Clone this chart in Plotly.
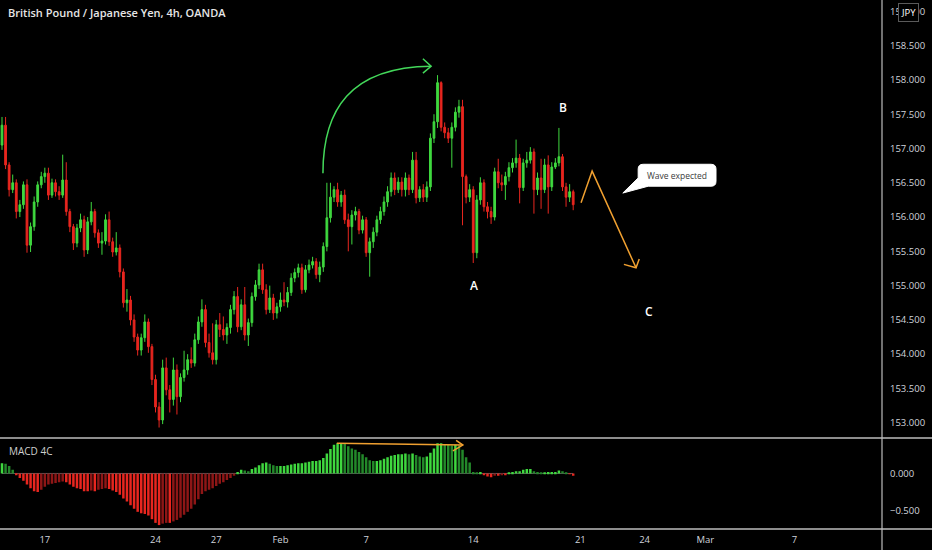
import plotly.graph_objects as go

# GBP/JPY 4h bars, 13 Jan - 18 Feb 2022, x is the bar number (6 bars a day)
first_open = 157.05
closes = [
    157.34, 156.76, 156.40, 156.50, 156.08, 156.18, 156.47, 155.59, 155.86, 156.22,
    156.47, 156.59, 156.64, 156.32, 156.50, 156.37, 156.32, 156.54, 156.08, 155.86,
    155.62, 155.84, 155.96, 155.52, 155.93, 156.08, 155.77, 155.62, 155.65, 155.96,
    155.64, 155.49, 155.55, 155.20, 154.75, 154.79, 154.50, 154.25, 154.06, 154.24,
    154.47, 154.11, 153.63, 153.23, 153.04, 153.80, 153.48, 153.34, 153.77, 153.38,
    153.66, 153.77, 153.92, 153.87, 154.21, 154.47, 154.65, 154.17, 154.02, 153.92,
    154.43, 154.36, 154.28, 154.39, 154.65, 154.84, 154.40, 154.72, 154.28, 154.46,
    154.84, 155.01, 155.23, 154.94, 154.65, 154.82, 154.60, 154.69, 154.79, 154.76,
    154.90, 155.11, 155.19, 155.26, 154.94, 155.23, 155.30, 155.35, 155.16, 155.27,
    155.57, 155.99, 156.29, 156.40, 156.22, 156.32, 155.96, 155.86, 156.03, 156.08,
    155.81, 155.96, 155.48, 155.64, 155.78, 155.96, 156.08, 156.22, 156.37, 156.57,
    156.40, 156.51, 156.40, 156.57, 156.40, 156.83, 156.28, 156.40, 156.29, 156.44,
    157.15, 157.39, 157.96, 157.31, 157.23, 157.15, 157.31, 157.53, 157.61, 156.59,
    156.29, 156.40, 155.48, 156.25, 156.50, 156.15, 156.08, 156.00, 156.66, 156.50,
    156.47, 156.59, 156.72, 156.79, 156.86, 156.43, 156.79, 156.83, 156.95, 156.40,
    156.57, 156.40, 156.76, 156.44, 156.73, 156.79, 156.88, 156.44, 156.29, 156.37,
    156.18,
]
highs = [
    157.46, 157.46, 156.80, 156.62, 156.55, 156.25, 156.52, 156.55, 155.92, 156.30,
    156.52, 156.66, 156.72, 156.72, 156.56, 156.55, 156.45, 156.91, 156.80, 156.12,
    155.90, 155.90, 156.05, 156.02, 156.00, 156.22, 156.12, 155.82, 155.78, 156.04,
    156.08, 155.70, 155.78, 155.60, 155.25, 154.95, 154.85, 154.58, 154.30, 154.30,
    154.58, 154.52, 154.15, 153.70, 153.30, 153.92, 153.95, 153.55, 153.95, 153.85,
    153.72, 154.05, 154.00, 154.10, 154.30, 154.55, 154.80, 154.72, 154.30, 154.45,
    154.50, 154.60, 154.55, 154.45, 154.72, 154.92, 154.98, 154.80, 154.98, 154.52,
    154.90, 155.08, 155.32, 155.32, 155.02, 155.00, 154.88, 154.75, 154.90, 155.05,
    154.98, 155.18, 155.25, 155.32, 155.32, 155.30, 155.38, 155.42, 155.40, 155.35,
    155.63, 156.50, 156.50, 156.45, 156.50, 156.38, 156.40, 156.05, 156.10, 156.15,
    156.12, 156.02, 156.00, 155.70, 155.85, 156.02, 156.15, 156.30, 156.45, 156.65,
    156.65, 156.58, 156.58, 156.65, 156.62, 156.95, 156.95, 156.45, 156.48, 156.52,
    157.22, 157.50, 158.07, 157.98, 157.38, 157.30, 157.38, 157.60, 157.71, 157.71,
    156.62, 156.48, 156.45, 156.32, 156.58, 156.55, 156.22, 156.15, 156.72, 156.85,
    156.62, 156.66, 156.80, 156.86, 157.13, 156.92, 156.85, 156.95, 157.02, 157.00,
    156.65, 156.85, 156.85, 156.90, 156.80, 156.86, 157.30, 156.92, 156.50, 156.48,
    156.40,
]
lows = [
    156.98, 156.70, 156.30, 156.35, 155.98, 156.00, 156.12, 155.48, 155.49, 155.80,
    156.15, 156.42, 156.50, 156.25, 156.28, 156.30, 156.25, 156.28, 156.02, 155.78,
    155.52, 155.56, 155.78, 155.42, 155.46, 155.88, 155.70, 155.55, 155.45, 155.60,
    155.58, 155.42, 155.44, 155.12, 154.68, 154.62, 154.42, 154.18, 153.98, 153.98,
    154.18, 154.02, 153.55, 153.15, 152.93, 152.98, 153.40, 153.15, 153.25, 153.12,
    153.30, 153.60, 153.70, 153.80, 153.82, 154.15, 154.40, 154.10, 153.95, 153.85,
    153.85, 154.25, 154.20, 154.15, 154.30, 154.58, 154.32, 154.35, 154.20, 154.12,
    154.40, 154.78, 154.95, 154.88, 154.58, 154.60, 154.50, 154.52, 154.62, 154.70,
    154.68, 154.85, 155.05, 155.12, 154.88, 154.90, 155.18, 155.25, 155.10, 155.05,
    155.20, 155.50, 155.92, 156.22, 156.15, 156.15, 155.90, 155.50, 155.60, 155.95,
    155.75, 155.76, 155.42, 155.13, 155.55, 155.72, 155.90, 156.02, 156.15, 156.30,
    156.32, 156.35, 156.30, 156.30, 156.32, 156.35, 156.20, 156.22, 156.22, 156.22,
    156.38, 157.08, 157.30, 157.25, 157.15, 157.08, 156.72, 157.25, 157.45, 155.88,
    156.20, 156.22, 155.33, 155.40, 156.18, 156.08, 155.98, 155.90, 155.95, 156.42,
    156.38, 156.25, 156.52, 156.65, 156.72, 156.20, 156.38, 156.72, 156.78, 156.05,
    156.32, 156.12, 156.35, 156.05, 156.38, 156.70, 156.74, 156.38, 156.15, 156.22,
    156.10,
]
macd_hist = [
    0.14, 0.13, 0.10, 0.05, -0.02, -0.06, -0.10, -0.15, -0.20, -0.24,
    -0.25, -0.22, -0.18, -0.15, -0.14, -0.13, -0.12, -0.11, -0.12, -0.15,
    -0.18, -0.20, -0.21, -0.24, -0.24, -0.23, -0.24, -0.22, -0.21, -0.20,
    -0.21, -0.23, -0.25, -0.29, -0.34, -0.38, -0.43, -0.48, -0.52, -0.54,
    -0.55, -0.57, -0.62, -0.67, -0.70, -0.68, -0.67, -0.67, -0.65, -0.63,
    -0.60, -0.56, -0.52, -0.48, -0.42, -0.35, -0.28, -0.24, -0.22, -0.20,
    -0.17, -0.14, -0.12, -0.09, -0.06, -0.03, 0.02, 0.05, 0.04, 0.03,
    0.06, 0.08, 0.11, 0.14, 0.15, 0.13, 0.11, 0.10, 0.10, 0.10,
    0.11, 0.12, 0.13, 0.14, 0.14, 0.15, 0.16, 0.17, 0.17, 0.18,
    0.21, 0.27, 0.33, 0.39, 0.41, 0.41, 0.40, 0.37, 0.34, 0.32,
    0.29, 0.26, 0.22, 0.18, 0.17, 0.17, 0.18, 0.20, 0.22, 0.24,
    0.25, 0.26, 0.26, 0.27, 0.26, 0.27, 0.25, 0.23, 0.22, 0.23,
    0.28, 0.34, 0.41, 0.41, 0.40, 0.39, 0.38, 0.39, 0.38, 0.32,
    0.22, 0.15, 0.02, 0.01, 0.02, -0.02, -0.04, -0.05, -0.03, -0.03,
    -0.02, -0.02, 0.01, 0.02, 0.03, 0.03, 0.05, 0.06, 0.06, 0.03,
    0.02, 0.01, 0.01, 0.02, 0.02, 0.02, 0.04, 0.03, 0.01, -0.01,
    -0.03,
]

# date labels on the time axis (bar number of the first bar of that day)
tick_bars = [12, 43, 60, 78, 102, 132, 162, 180, 197, 222]
tick_labels = ["17", "24", "27", "Feb", "7", "14", "21", "24", "Mar", "7"]
price_ticks = [153.0, 153.5, 154.0, 154.5, 155.0, 155.5, 156.0, 156.5,
               157.0, 157.5, 158.0, 158.5, 159.0]
macd_ticks = [0.0, -0.5]

GREEN = "#3fd83f"
RED = "#e8261f"
DARK_GREEN = "#23892a"
DARK_RED = "#8e1616"
ORANGE = "#f0a030"
AXIS_TEXT = "#d1d4dc"
SEP = "#bdbdbd"
FONT = "Open Sans"

bars = list(range(len(closes)))
opens = [first_open] + closes[:-1]

# MACD 4C colouring: bright when moving away from zero, dark when moving back
macd_colors = []
for k, v in enumerate(macd_hist):
    prev = macd_hist[k - 1] if k else v
    if v >= 0:
        macd_colors.append(GREEN if v >= prev else DARK_GREEN)
    else:
        macd_colors.append(RED if v <= prev else DARK_RED)

fig = go.Figure()

fig.add_trace(go.Candlestick(
    x=bars, open=opens, high=highs, low=lows, close=closes,
    increasing=dict(line=dict(color=GREEN, width=1), fillcolor=GREEN),
    decreasing=dict(line=dict(color=RED, width=1), fillcolor=RED),
    whiskerwidth=0, showlegend=False, xaxis="x", yaxis="y"))

fig.add_trace(go.Bar(
    x=bars, y=macd_hist, marker=dict(color=macd_colors, line=dict(width=0)),
    showlegend=False, xaxis="x2", yaxis="y2"))

x_range = [-0.56, 246.5]

fig.update_layout(
    width=932, height=550,
    margin=dict(l=0, r=50, t=0, b=21, pad=0),
    paper_bgcolor="#000000", plot_bgcolor="#000000",
    font=dict(family=FONT, size=10, color=AXIS_TEXT),
    bargap=0.3,
    hovermode=False,
    xaxis=dict(domain=[0, 1], anchor="y", range=x_range, showticklabels=False,
               showgrid=False, zeroline=False, rangeslider=dict(visible=False)),
    xaxis2=dict(domain=[0, 1], anchor="y2", range=x_range, matches="x",
                tickvals=tick_bars, ticktext=tick_labels, showgrid=False,
                zeroline=False, ticks="", ticklabelstandoff=3,
                tickfont=dict(size=9.5, color=AXIS_TEXT)),
    yaxis=dict(domain=[0.1725, 1], range=[152.781, 159.166], side="right",
               tickvals=price_ticks, tickformat=".3f", showgrid=False,
               zeroline=False, ticks="", ticklabelstandoff=7,
               tickfont=dict(size=9.5, color=AXIS_TEXT)),
    yaxis2=dict(domain=[0, 0.1715], range=[-0.753, 0.477], side="right",
                tickvals=macd_ticks, tickformat=".3f", showgrid=False,
                zeroline=False, ticks="", ticklabelstandoff=7,
                tickfont=dict(size=9.5, color=AXIS_TEXT)),
)

shapes = [
    # pane separators and price-scale border
    dict(type="line", xref="paper", yref="paper", x0=0, x1=1.06, y0=0.172, y1=0.172,
         line=dict(color=SEP, width=1.5)),
    dict(type="line", xref="paper", yref="paper", x0=0, x1=1.06, y0=0, y1=0,
         line=dict(color=SEP, width=1.5)),
    dict(type="line", xref="paper", yref="paper", x0=1, x1=1, y0=-0.05, y1=1,
         line=dict(color=SEP, width=1.2)),
    # MACD zero line under the bars
    dict(type="line", xref="x2", yref="y2", x0=0, x1=160, y0=0, y1=0,
         line=dict(color="#5a5a5a", width=1), layer="below"),
    # green curved arrow
    dict(type="path", xref="x", yref="y",
         path="M 89.9,156.64 C 89.9,157.56 97.5,158.19 120.2,158.2",
         line=dict(color="#43d85a", width=1.5)),
    dict(type="path", xref="x", yref="y",
         path="M 117.9,158.31 L 120.2,158.2 L 117.9,158.1",
         line=dict(color="#43d85a", width=1.5)),
    # orange projected wave
    dict(type="path", xref="x", yref="y",
         path="M 162.2,156.21 L 165.3,156.67 L 177.6,155.26",
         line=dict(color=ORANGE, width=1.5)),
    dict(type="path", xref="x", yref="y",
         path="M 174.2,155.31 L 177.6,155.26 L 178.5,155.39",
         line=dict(color=ORANGE, width=1.5)),
    # orange arrow on the MACD pane
    dict(type="path", xref="x2", yref="y2",
         path="M 93.8,0.41 L 129.1,0.385",
         line=dict(color=ORANGE, width=1.5)),
    dict(type="path", xref="x2", yref="y2",
         path="M 127.2,0.45 L 129.1,0.385 L 126.3,0.305",
         line=dict(color=ORANGE, width=1.5)),
    # "Wave expected" callout bubble
    dict(type="path", xref="x", yref="y",
         path=("M 179.6,156.77 L 198.6,156.77 Q 200.0,156.77 200.0,156.70 "
               "L 200.0,156.52 Q 200.0,156.45 198.6,156.45 L 181.0,156.45 "
               "L 173.9,156.35 L 178.2,156.57 L 178.2,156.70 "
               "Q 178.2,156.77 179.6,156.77 Z"),
         fillcolor="#ffffff", line=dict(color="#ffffff", width=1)),
]
fig.update_layout(shapes=shapes)

annotations = [
    dict(text="British Pound / Japanese Yen, 4h, OANDA", xref="paper", yref="paper",
         x=0.0068, y=0.9773, xanchor="left", yanchor="middle", showarrow=False,
         font=dict(size=11, color="#e6e6e6", weight=600)),
    dict(text="MACD 4C", xref="paper", yref="paper", x=0.008, y=0.1474,
         xanchor="left", yanchor="middle", showarrow=False,
         font=dict(size=10, color="#cfcfcf")),
    # currency badge drawn over the top price label, as on the original
    dict(text="JPY", xref="paper", yref="paper", x=1.0300, y=0.9773,
         xanchor="center", yanchor="middle", showarrow=False,
         bgcolor="#000000", bordercolor="#5a5a5a", borderwidth=1, borderpad=2,
         font=dict(size=9.5, color="#ffffff")),
    dict(text="A", x=132.2, y=155.0, xref="x", yref="y", showarrow=False,
         font=dict(size=12, color="#ffffff", weight=600)),
    dict(text="B", x=157.1, y=157.6, xref="x", yref="y", showarrow=False,
         font=dict(size=12, color="#ffffff", weight=600)),
    dict(text="C", x=181.2, y=154.62, xref="x", yref="y", showarrow=False,
         font=dict(size=12, color="#ffffff", weight=600)),
    dict(text="Wave expected", x=189.1, y=156.61, xref="x", yref="y",
         showarrow=False, font=dict(size=8.5, color="#3a3a3a")),
]
fig.update_layout(annotations=annotations)

# the page's default body margin would shift the 932x550 figure off the window
fig.write_html("out.html",
               config=dict(displayModeBar=False),
               post_script="document.body.style.margin='0';"
                           "document.body.style.overflow='hidden';"
                           "document.body.style.background='#000';")
